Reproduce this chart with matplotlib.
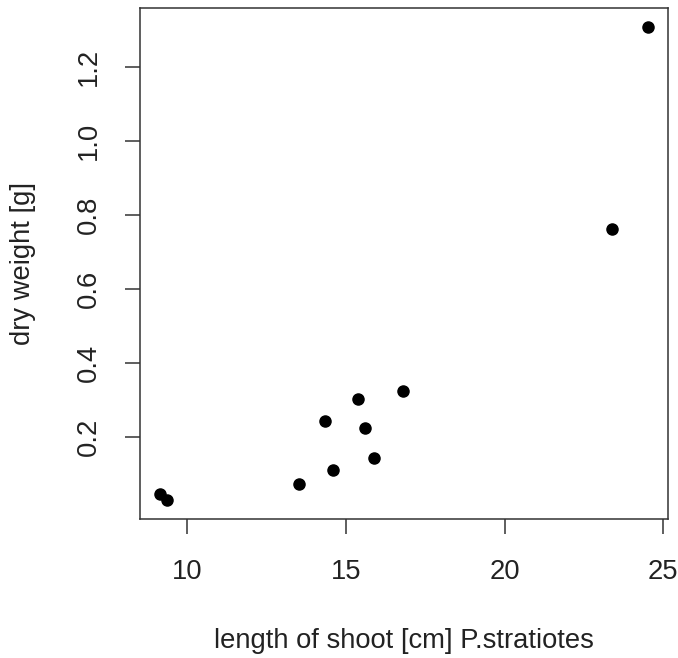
import matplotlib
matplotlib.use("Agg")
import matplotlib.pyplot as plt

# shoot length [cm] and dry weight [g], P. stratiotes
length_cm = [9.12, 9.35, 13.50, 14.33, 14.60, 15.38, 15.61, 15.88, 16.78, 23.38, 24.53]
dry_weight = [0.046, 0.031, 0.074, 0.244, 0.112, 0.302, 0.226, 0.145, 0.325, 0.761, 1.306]

x_ticks = [10, 15, 20, 25]
y_ticks = [0.2, 0.4, 0.6, 0.8, 1.0, 1.2]

plt.rcParams['font.family'] = ['Liberation Sans', 'DejaVu Sans']

fig = plt.figure(figsize=(6.78, 6.58), dpi=100)
ax = fig.add_axes([140 / 678, 1 - 518.7 / 658, 528 / 678, (518.7 - 8.4) / 658])

ax.plot(length_cm, dry_weight, 'o', color='black', markersize=8)

# R-style 4% padding on both axes
xr = max(length_cm) - min(length_cm)
yr = max(dry_weight) - min(dry_weight)
ax.set_xlim(min(length_cm) - 0.04 * xr, max(length_cm) + 0.04 * xr)
ax.set_ylim(min(dry_weight) - 0.04 * yr, max(dry_weight) + 0.04 * yr)

ax.set_xticks(x_ticks)
ax.set_xticklabels([str(t) for t in x_ticks])
ax.set_yticks(y_ticks)
ax.set_yticklabels([f"{t:.1f}" for t in y_ticks], rotation=90, va='center')

for sp in ax.spines.values():
    sp.set_color('#333333')
    sp.set_linewidth(1.1)
ax.tick_params(length=11, width=1.1, color='#333333', labelsize=19.7,
               labelcolor='#222222')
ax.tick_params(axis='x', pad=18)
ax.tick_params(axis='y', pad=16.5)

ax.set_xlabel("length of shoot [cm] P.stratiotes", fontsize=19.7, color='#222222', labelpad=31)
ax.set_ylabel("dry weight [g]", fontsize=19.7, color='#222222', labelpad=29)

fig.savefig("out.png", dpi=100)
